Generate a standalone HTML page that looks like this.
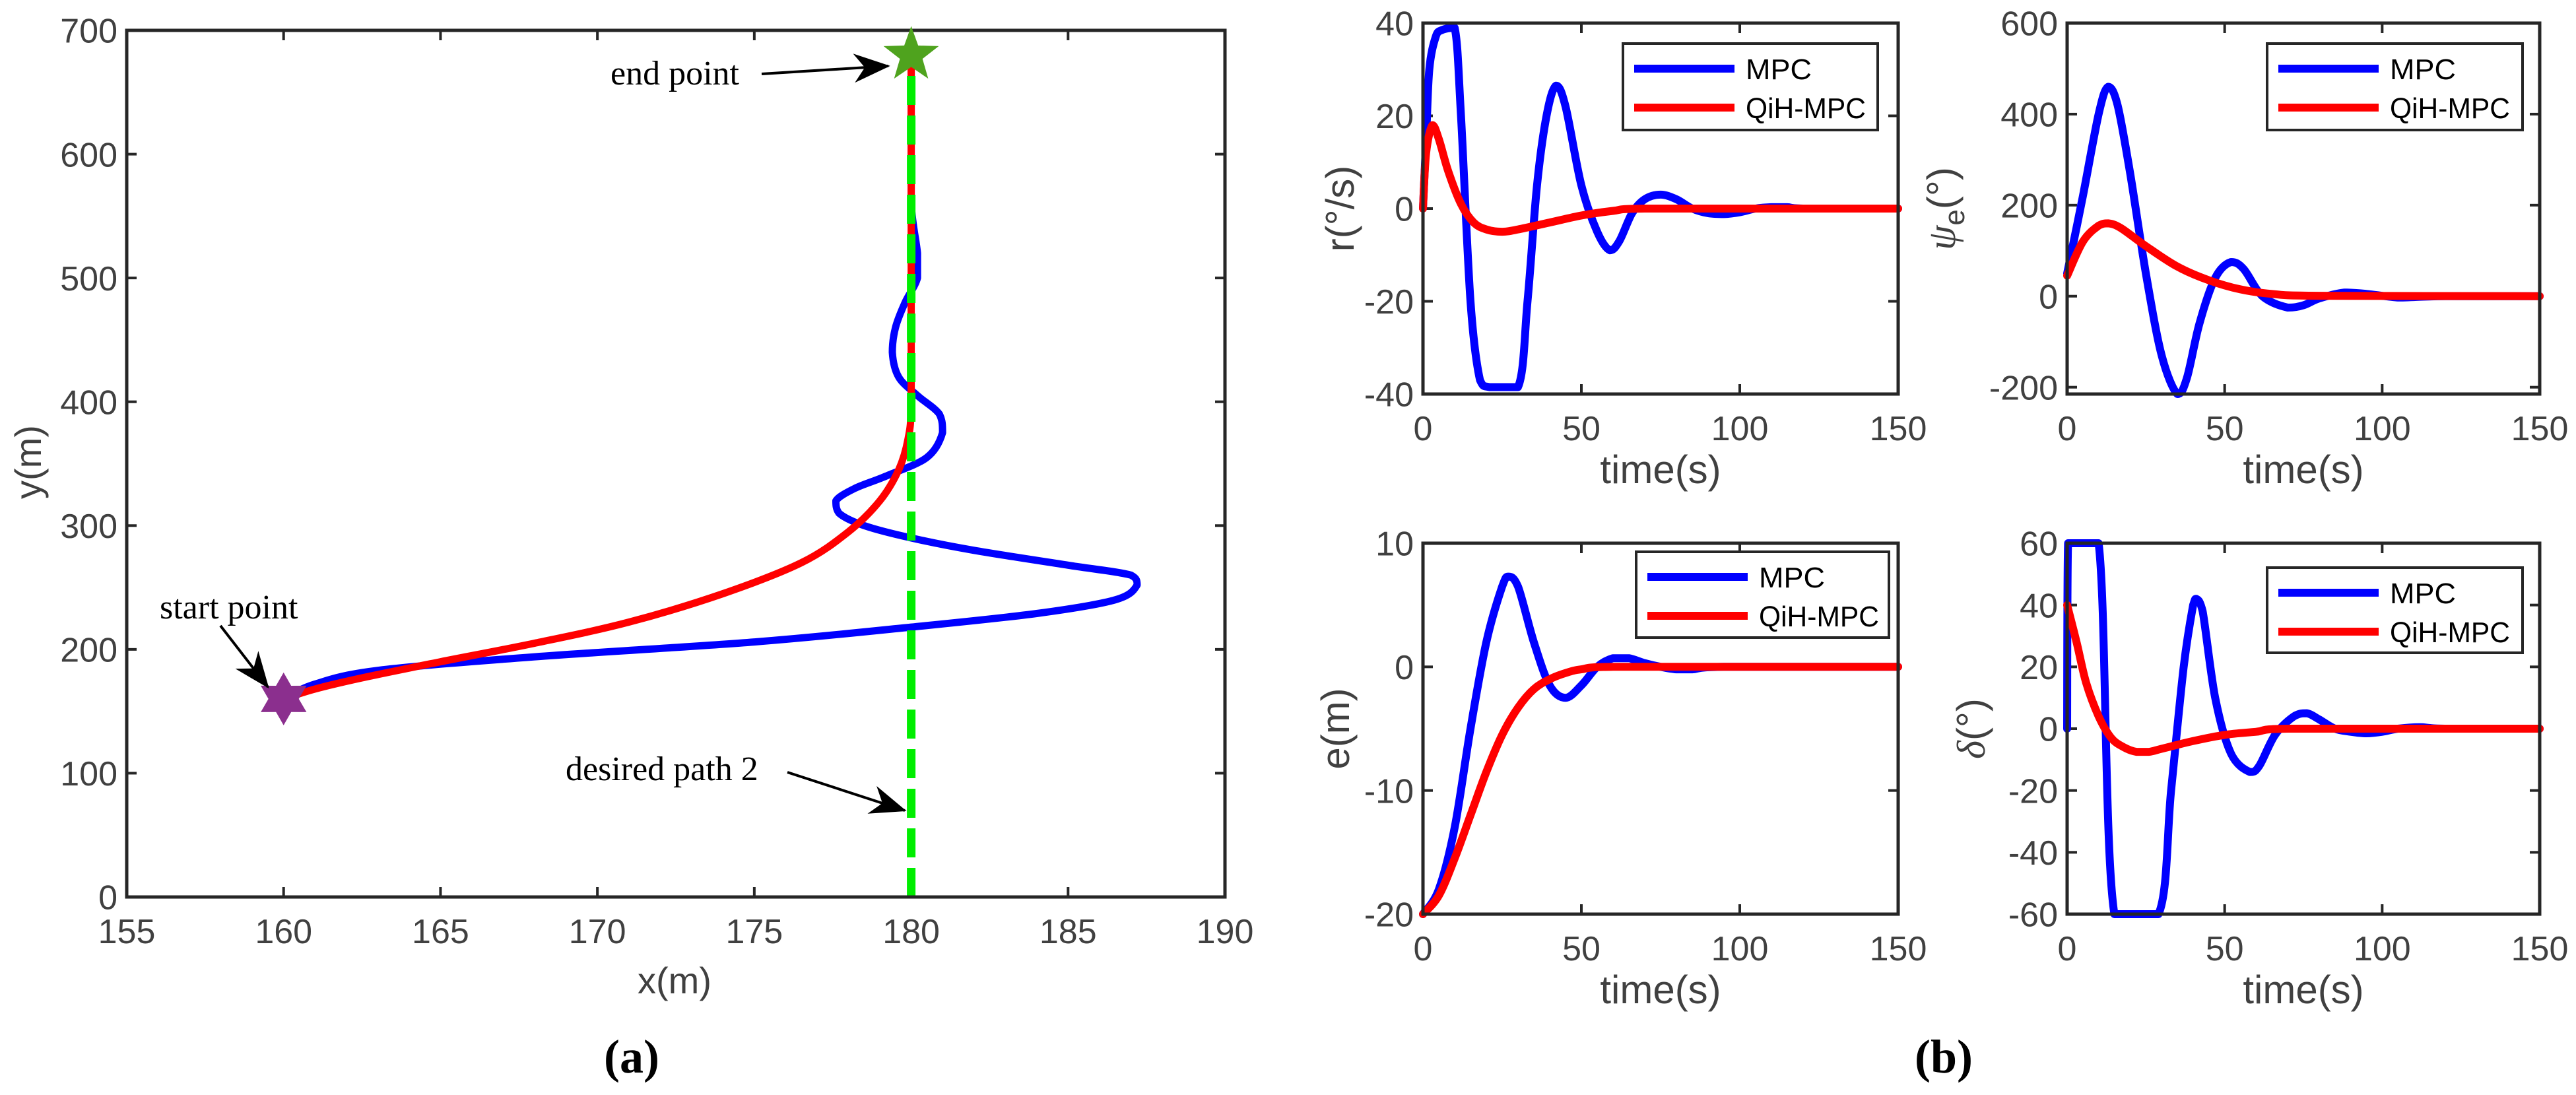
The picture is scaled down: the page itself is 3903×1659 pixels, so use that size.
<!DOCTYPE html>
<html><head><meta charset="utf-8"><style>
html,body{margin:0;padding:0;background:#fff;}
svg{display:block;}
text{font-family:"Liberation Sans",sans-serif;fill:#404040;}
.serif{font-family:"Liberation Serif",serif;fill:#000;}
</style></head><body>
<svg id="fig" width="3903" height="1659" viewBox="0 0 3903 1659" xmlns="http://www.w3.org/2000/svg">
<defs><marker id="arr" markerWidth="60" markerHeight="44" refX="9.5" refY="4" orient="auto" markerUnits="userSpaceOnUse" viewBox="0 0 10 8"><path d="M0,0 L10,4 L0,8 L3,4 Z" fill="#000"/></marker></defs>
</svg>
<script>
// ---------- Data: panel (a) trajectory ----------
const trajXTicks=[155,160,165,170,175,180,185,190];
const trajYTicks=[0,100,200,300,400,500,600,700];
const mpcPathX=[160,161,163,168,175,180,184,186.5,187.2,187,185,182,180,178.5,177.7,177.6,178.2,179.2,180.5,181,180.9,180.2,179.6,179.4,179.5,179.8,180.2,180.2,180,180,180];
const mpcPathY=[160,172,183,194,206,218,229,240,252,260,268,280,290,300,310,320,330,340,355,375,390,405,420,440,460,480,500,520,560,620,680];
const qihPathX=[160,161,162.5,165,168,171,174,176.5,178,179,179.6,179.9,180,180,180];
const qihPathY=[160,168,177,190,205,222,245,270,295,320,345,370,400,500,680];
const desiredX=[180,180];
const desiredY=[0,690];
// ---------- Data: panel (b) time series ----------
const timeTicks=[0,50,100,150];
const rT=[0,1,2,4,6,10,12,15,18,21,30,33,36,39,42,45,50,55,59,62,66,70,75,80,85,90,95,100,105,110,115,120,150];
const rMPC=[0,15,30,37,38.5,39,20,-20,-37,-38.5,-38.5,-20,5,20,26.5,22,5,-5,-9,-7,-1,2,3,2,0,-1,-1.2,-0.8,0,0.3,0.3,0,0];
const rQT=[0,1,3,5,8,12,16,20,25,30,40,50,60,70,150];
const rQiH=[0,12,18,15,8,1,-3,-4.5,-5,-4.5,-3,-1.5,-0.5,0,0];
const rTicks=[-40,-20,0,20,40];
const pT=[0,5,10,13,16,20,25,30,35,38,42,47,52,56,62,70,75,80,88,95,105,110,120,150];
const pMPC=[50,220,400,460,420,270,50,-130,-215,-180,-60,40,75,60,0,-25,-20,-5,8,5,-3,-2,0,0];
const pQT=[0,5,10,13,17,25,35,45,55,65,80,150];
const pQiH=[45,120,155,160,150,110,65,35,15,5,1,0];
const pTicks=[-200,0,200,400,600];
const eT=[0,5,10,15,20,25,27,30,35,40,45,50,55,60,65,70,75,80,85,95,150];
const eMPC=[-20,-18,-13,-5,2,6.5,7.3,6.5,2,-1.5,-2.5,-1.5,0,0.7,0.7,0.3,0,-0.2,-0.2,0,0];
const eQT=[0,5,10,15,20,25,30,35,40,45,50,60,150];
const eQiH=[-20,-18.5,-15.5,-12,-8.5,-5.5,-3.3,-1.8,-1,-0.5,-0.2,0,0];
const eTicks=[-20,-10,0,10];
const dT=[0,0.3,10,15,29,33,37,40,41,43,47,52,58,61,66,72,76,80,85,90,95,100,105,112,120,150];
const dMPC=[0,60,60,-60,-60,-20,20,40,42,38,10,-8,-14,-12,-2,4,5,3,0,-1,-1.5,-1,0,0.5,0,0];
const dQT=[0,3,6,10,14,18,22,26,30,40,50,60,70,150];
const dQiH=[40,28,15,4,-3,-6,-7.5,-7.5,-6.5,-4,-2,-1,0,0];
const dTicks=[-60,-40,-20,0,20,40,60];

const NS="http://www.w3.org/2000/svg";
const svg=document.getElementById('fig');
function el(tag,attrs,parent){const e=document.createElementNS(NS,tag);for(const k in attrs)e.setAttribute(k,attrs[k]);(parent||svg).appendChild(e);return e;}

function axes(name,L,R,T,B,xmin,xmax,ymin,ymax,xt,yt,fs){
  const g=el('g',{});
  
  
  const sx=v=>L+(v-xmin)/(xmax-xmin)*(R-L);
  const sy=v=>B-(v-ymin)/(ymax-ymin)*(B-T);
  xt.forEach(v=>{const x=sx(v);
    el('line',{x1:x,y1:B,x2:x,y2:B-15,stroke:'#262626','stroke-width':4},g);
    el('line',{x1:x,y1:T,x2:x,y2:T+15,stroke:'#262626','stroke-width':4},g);
    const t=el('text',{x:x,y:B+fs*1.35,'font-size':fs,'text-anchor':'middle'},g);t.textContent=v;
    
    });
  yt.forEach(v=>{const y=sy(v);
    el('line',{x1:L,y1:y,x2:L+15,y2:y,stroke:'#262626','stroke-width':4},g);
    el('line',{x1:R,y1:y,x2:R-15,y2:y,stroke:'#262626','stroke-width':4},g);
    const t=el('text',{x:L-14,y:y+fs*0.36,'font-size':fs,'text-anchor':'end'},g);t.textContent=v;
    
    });
  return {g,sx,sy,L,R,T,B};
}
function frame(ax){el('rect',{x:ax.L,y:ax.T,width:ax.R-ax.L,height:ax.B-ax.T,fill:'none',stroke:'#262626','stroke-width':5},ax.g);}
function clamp(v,a,b){const lo=Math.min(a,b),hi=Math.max(a,b);return Math.max(lo,Math.min(hi,v));}
function smoothPath(P){
  if(P.length<3) return 'M'+P.map(p=>p[0].toFixed(1)+','+p[1].toFixed(1)).join(' L');
  let d='M'+P[0][0].toFixed(1)+','+P[0][1].toFixed(1);
  for(let i=0;i<P.length-1;i++){
    const p0=P[i-1]||P[i],p1=P[i],p2=P[i+1],p3=P[i+2]||P[i+1];
    const c1=[clamp(p1[0]+(p2[0]-p0[0])/6,p1[0],p2[0]),clamp(p1[1]+(p2[1]-p0[1])/6,p1[1],p2[1])];
    const c2=[clamp(p2[0]-(p3[0]-p1[0])/6,p1[0],p2[0]),clamp(p2[1]-(p3[1]-p1[1])/6,p1[1],p2[1])];
    d+=' C'+c1[0].toFixed(1)+','+c1[1].toFixed(1)+' '+c2[0].toFixed(1)+','+c2[1].toFixed(1)+' '+p2[0].toFixed(1)+','+p2[1].toFixed(1);
  }
  return d;
}
function line(ax,xs,ys,color,w,name,dash){
  const P=xs.map((x,i)=>[ax.sx(x),ax.sy(ys[i])]);
  const p=el('path',{d:smoothPath(P),fill:'none',stroke:color,'stroke-width':w,'stroke-linejoin':'round','stroke-linecap':dash?'butt':'round'},ax.g);
  if(dash)p.setAttribute('stroke-dasharray',dash);
  
  
  return p;
}
function txt(s,x,y,fs,opts){const t=el('text',Object.assign({x:x,y:y,'font-size':fs},opts||{}));t.textContent=s;return t;}
function star(cx,cy,ro,ri,n,color,name){
  let pts=[];for(let i=0;i<2*n;i++){const r=i%2?ri:ro;const a=-Math.PI/2+i*Math.PI/n;pts.push((cx+r*Math.cos(a)).toFixed(1)+','+(cy+r*Math.sin(a)).toFixed(1));}
  const p=el('polygon',{points:pts.join(' '),fill:color});
  
  
}

// ---- Panel (a)
const A=axes('trajectory-axes',192,1856,46,1359,155,190,0,700,trajXTicks,trajYTicks,52);
line(A,mpcPathX,mpcPathY,'#0000ff',11,'mpc-trajectory');
line(A,qihPathX,qihPathY,'#ff0000',11,'qih-mpc-trajectory');
line(A,desiredX,desiredY,'#00ee00',13,'desired-path-line','44 16');
frame(A);
star(A.sx(180),A.sy(680),44,18,5,'#4fa31e','end-point-marker');
star(A.sx(160),A.sy(160),40,23,6,'#8b2f8e','start-point-marker');
let t;
t=txt('y(m)',62,700,56,{'text-anchor':'middle',transform:'rotate(-90 62 700)'});


t=txt('x(m)',1022,1505,56,{'text-anchor':'middle'});


t=txt('end point',925,128,52,{class:'serif'});


t=txt('start point',242,937,52,{class:'serif'});


t=txt('desired path 2',857,1182,52,{class:'serif'});


[[1154,112,1346,100],[334,948,406,1041],[1193,1170,1371,1228]].forEach(a=>{
  const l=el('line',{x1:a[0],y1:a[1],x2:a[2],y2:a[3],stroke:'#000','stroke-width':4,'marker-end':'url(#arr)'});
  
  
});
t=txt('(a)',957,1625,72,{class:'serif','text-anchor':'middle','font-weight':'bold'});



// ---- Panel (b)
function sub(name,L,R,T,B,ymin,ymax,yt,tM,vM,tQ,vQ,ylabel,yoff,leg){
  const ax=axes(name,L,R,T,B,0,150,ymin,ymax,timeTicks,yt,52);
  line(ax,tM,vM,'#0000ff',12,name+'-mpc-line');
  line(ax,tQ,vQ,'#ff0000',12,name+'-qih-mpc-line');
  frame(ax);
  let tt=txt('time(s)',(L+R)/2,B+135,60,{'text-anchor':'middle'});
  
  
  const yc=(T+B)/2, xl=L-yoff;
  tt=el('text',{x:xl,y:yc,'font-size':60,'text-anchor':'middle',transform:'rotate(-90 '+xl+' '+yc+')'});
  tt.innerHTML=ylabel;
  
  
  const lg=el('g',{},ax.g);
  
  
  el('rect',{x:leg[0],y:leg[1],width:leg[2]-leg[0],height:leg[3]-leg[1],fill:'#fff',stroke:'#262626','stroke-width':4},lg);
  const r1=leg[1]+38, r2=leg[1]+97;
  el('line',{x1:leg[0]+17,y1:r1,x2:leg[0]+169,y2:r1,stroke:'#0000ff','stroke-width':12},lg);
  el('line',{x1:leg[0]+17,y1:r2,x2:leg[0]+169,y2:r2,stroke:'#ff0000','stroke-width':12},lg);
  let a=el('text',{x:leg[0]+186,y:r1+16,'font-size':44,textLength:100,lengthAdjust:'spacingAndGlyphs'},lg);a.textContent='MPC';a.style.fill='#000';
  
  
  a=el('text',{x:leg[0]+186,y:r2+16,'font-size':44,textLength:182,lengthAdjust:'spacingAndGlyphs'},lg);a.textContent='QiH-MPC';a.style.fill='#000';
  
  
}
sub('yaw-rate-plot',2156,2876,35,597,-40,40,rTicks,rT,rMPC,rQT,rQiH,'r(°/s)',105,[2459,66,2845,197]);
sub('heading-error-plot',3132,3848,35,597,-215,600,pTicks,pT,pMPC,pQT,pQiH,'<tspan font-style="italic" font-family="Liberation Serif">ψ</tspan><tspan font-size="44" dy="14">e</tspan><tspan dy="-14">(°)</tspan>',170,[3435,66,3822,197]);
sub('cross-track-error-plot',2156,2876,823,1385,-20,10,eTicks,eT,eMPC,eQT,eQiH,'e(m)',112,[2479,836,2862,966]);
sub('rudder-angle-plot',3132,3848,823,1385,-60,60,dTicks,dT,dMPC,dQT,dQiH,'<tspan font-style="italic" font-family="Liberation Serif">δ</tspan>(°)',125,[3435,860,3822,989]);
t=txt('(b)',2945,1625,72,{class:'serif','text-anchor':'middle','font-weight':'bold'});


</script>
</body></html>
